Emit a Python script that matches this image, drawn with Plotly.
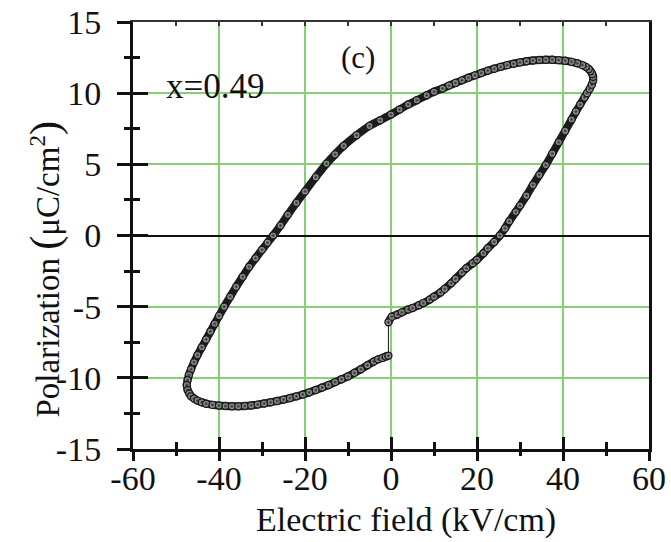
import plotly.graph_objects as go

# Electric field (kV/cm) and polarization (uC/cm^2), read from the loop in order
E = [-0.6, 0.2, 1.5, 2.5, 4.0, 5.0, 6.5, 7.5, 9.0, 10.0, 11.5, 12.5, 14.0, 15.0, 16.5,
     17.5, 19.0, 20.0, 21.5, 22.5, 24.0, 25.3, 26.5, 27.5, 29.0, 30.0, 31.5,
     33.0, 34.5, 36.0, 37.5, 39.0, 40.5, 42.0, 43.0, 44.0, 45.0, 45.6, 46.2, 46.7, 47.0,
     47.0, 46.8, 46.4, 46.0, 45.3, 44.5, 43.3, 42.0, 40.5, 39.0, 37.5, 36.0, 34.5, 33.0,
     31.5, 30.0, 28.5, 27.0, 25.5, 24.0, 22.5, 21.0, 19.5, 18.0, 16.5, 15.0, 13.5,
     12.0, 10.0, 8.3, 6.0, 4.0, 2.0, 0.0, -2.5, -5.0, -8.0, -11.0, -13.0, -15.0,
     -17.5, -20.0, -22.0, -24.0, -25.7, -27.4, -28.7, -30.0, -31.5, -33.0, -34.5,
     -36.0, -37.4, -38.8, -40.0, -41.0, -42.0, -43.0, -44.0, -45.0, -45.8, -46.5,
     -47.0, -47.3, -47.5,
     -47.3, -46.9, -46.5, -45.8, -45.0, -44.0, -43.0, -41.5, -40.0, -38.5, -37.0,
     -35.5, -34.0, -32.5, -31.0, -29.5, -28.0, -26.5, -25.0, -23.5, -22.0, -20.5,
     -19.0, -17.5, -16.0, -14.5, -13.0, -11.5, -10.0, -8.5, -7.0, -5.5, -4.0, -3.0,
     -2.0, -1.2, -0.6]
P = [-6.1, -5.7, -5.55, -5.4, -5.2, -5.1, -4.9, -4.75, -4.5, -4.3, -4.0, -3.75, -3.35,
     -3.05, -2.6, -2.3, -1.95, -1.7, -1.25, -0.9, -0.45, 0.0, 0.5, 1.0, 1.65, 2.1, 2.8,
     3.55, 4.25, 4.95, 5.75, 6.55, 7.35, 8.15, 8.7, 9.2, 9.7, 10.0, 10.3, 10.6, 10.9,
     11.15, 11.35, 11.55, 11.7, 11.85, 11.97, 12.1, 12.2, 12.28, 12.32, 12.35, 12.35,
     12.33, 12.3, 12.24, 12.16, 12.07, 11.97, 11.85, 11.72, 11.58, 11.42, 11.25, 11.08,
     10.9, 10.72, 10.53, 10.33, 10.1, 9.85, 9.5, 9.2, 8.85, 8.5, 8.1, 7.7, 7.05,
     6.3, 5.7, 5.05, 4.1, 3.1, 2.3, 1.45, 0.7, 0.0, -0.5, -1.0, -1.6, -2.2, -2.9,
     -3.6, -4.3, -5.0, -5.65, -6.2, -6.75, -7.3, -7.85, -8.4, -8.9, -9.4,
     -9.8, -10.15, -10.5,
     -10.85, -11.1, -11.3, -11.45, -11.6, -11.72, -11.82, -11.9, -11.95, -11.98, -12.0,
     -12.0, -11.98, -11.94, -11.88, -11.8, -11.72, -11.63, -11.53, -11.42, -11.3, -11.17,
     -11.02, -10.86, -10.68, -10.5, -10.3, -10.1, -9.9, -9.65, -9.4, -9.12, -8.85, -8.7,
     -8.6, -8.5, -8.45]

x_ticks = [-60, -40, -20, 0, 20, 40, 60]
y_ticks = [-15, -10, -5, 0, 5, 10, 15]

FONT = "Liberation Serif"
GREEN = "#86cf76"
INK = "#111"

fig = go.Figure()

# thin connector across the jump at E=0
fig.add_trace(go.Scatter(x=[E[-1], E[0]], y=[P[-1], P[0]], mode="lines",
                         line=dict(color=INK, width=1), showlegend=False,
                         hoverinfo="skip"))
# dark band
fig.add_trace(go.Scatter(x=E, y=P, mode="lines", line=dict(color="#1c1c1c", width=8,
                         shape="spline", smoothing=0.6), showlegend=False, hoverinfo="skip"))
# beads
fig.add_trace(go.Scatter(x=E, y=P, mode="markers",
                         marker=dict(size=7, color="#c8c8c8", line=dict(color="#1a1a1a", width=1.4),
                                     gradient=dict(type="radial", color="#262626")),
                         showlegend=False))
# dummy traces so the overlay axes render
for xa, ya in (("x2", "y2"), ("x3", "y3"), ("x4", "y4")):
    fig.add_trace(go.Scatter(x=[E[0]], y=[P[0]], xaxis=xa, yaxis=ya, mode="markers",
                             marker=dict(opacity=0), showlegend=False, hoverinfo="skip"))

tickfont = dict(family=FONT, size=34, color=INK)


def tick_axis(rng, vals, minor_dtick, side, anchor, overlay, direction, major_len, minor_len):
    return dict(range=rng, overlaying=overlay, anchor=anchor, side=side, tickvals=vals,
                ticks=direction, ticklen=major_len, tickwidth=3, tickcolor=INK,
                minor=dict(dtick=minor_dtick, ticks=direction, ticklen=minor_len, tickwidth=3,
                           tickcolor=INK, showgrid=False),
                showticklabels=False, showgrid=False, zeroline=False, showline=False,
                automargin=False, fixedrange=True)


fig.update_layout(
    width=671, height=542,
    margin=dict(l=133, r=22, t=22, b=93),
    plot_bgcolor="white", paper_bgcolor="white",
    xaxis=dict(range=[-60, 60], tickvals=x_ticks, ticktext=[str(v) for v in x_ticks],
               ticks="", ticklabelstandoff=-3, showline=True, linewidth=3, linecolor=INK,
               showgrid=True, gridcolor=GREEN, gridwidth=1.5, zeroline=False,
               tickfont=tickfont, automargin=False, fixedrange=True),
    yaxis=dict(range=[-15, 15], tickvals=y_ticks, ticktext=[str(v) for v in y_ticks],
               ticks="", ticklabelstandoff=22, showline=True, linewidth=3, linecolor=INK,
               showgrid=True, gridcolor=GREEN, gridwidth=1.5,
               zeroline=True, zerolinecolor=INK, zerolinewidth=2,
               tickfont=tickfont, automargin=False, fixedrange=True),
    xaxis2=tick_axis([-60, 60], x_ticks, 10, "bottom", "y", "x", "inside", 12, 7),
    yaxis2=tick_axis([-15, 15], y_ticks, 2.5, "left", "x", "y", "inside", 15, 7),
    xaxis4=tick_axis([-60, 60], x_ticks, 10, "bottom", "y", "x", "outside", 11, 6),
    yaxis4=tick_axis([-15, 15], y_ticks, 2.5, "left", "x", "y", "outside", 15, 8),
    xaxis3=dict(range=[-60, 60], overlaying="x", anchor="y3", side="top",
                dtick=10, ticks="inside", ticklen=4, tickwidth=1.5, tickcolor="#333",
                showticklabels=False, showgrid=False, zeroline=False,
                showline=True, linewidth=2, linecolor="#333", automargin=False),
    yaxis3=dict(range=[-15, 15], overlaying="y", anchor="x3", side="right",
                ticks="", showticklabels=False, showgrid=False, zeroline=False,
                showline=True, linewidth=3, linecolor=INK, automargin=False),
    annotations=[
        dict(text="Electric field (kV/cm)", xref="paper", yref="paper", x=0.529, y=0,
             yshift=-71, xanchor="center", yanchor="middle", showarrow=False,
             font=dict(family=FONT, size=34, color=INK)),
        dict(text="Polarization <span style='font-size:42px'>(</span>μC/cm<sup>2</sup>"
                  "<span style='font-size:42px'>)</span>",
             xref="paper", yref="paper", x=0, y=0.5, xshift=-88, yshift=-34, textangle=-90,
             xanchor="center", yanchor="middle", showarrow=False,
             font=dict(family=FONT, size=33, color=INK)),
        dict(text="(c)", xref="x", yref="y", x=-7.7, y=12.5, showarrow=False,
             xanchor="center", yanchor="middle",
             font=dict(family=FONT, size=31, color=INK)),
        dict(text="x=0.49", xref="x", yref="y", x=-40.9, y=10.5, showarrow=False,
             xanchor="center", yanchor="middle",
             font=dict(family=FONT, size=35, color=INK)),
    ],
)

fig.write_html("out.html")
